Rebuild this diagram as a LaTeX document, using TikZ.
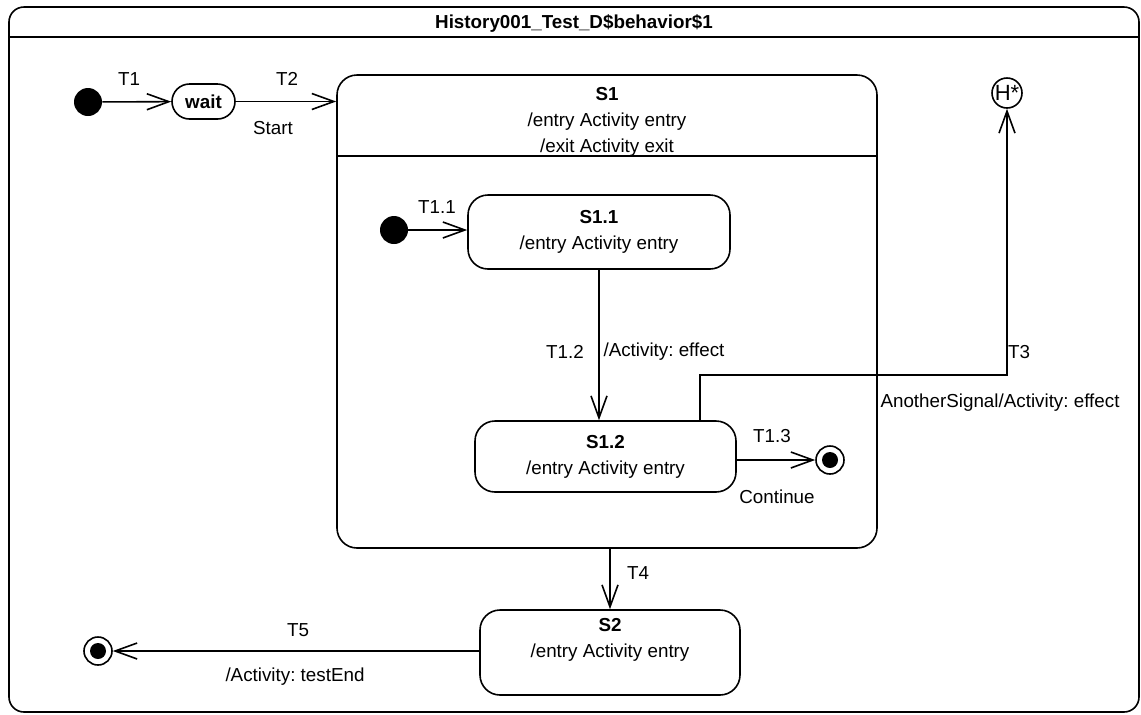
\documentclass[tikz,border=0pt]{standalone}
\usepackage{fontspec}
\setmainfont{Liberation Sans}
\usetikzlibrary{arrows.meta,positioning}

\newcommand{\dfont}{\fontsize{9.4}{13}\selectfont\frenchspacing}

\tikzset{
  state/.style={draw, line width=0.8pt, rounded corners=10pt, align=center, inner sep=0pt},
  pseudo/.style={circle, fill, minimum size=14pt, inner sep=0pt},
  finalst/.style={circle, draw, line width=0.8pt, minimum size=14pt, inner sep=0pt,
    path picture={\fill (path picture bounding box.center) circle (4pt);}},
  trans/.style={line width=0.8pt, -{Straight Barb[length=11pt,width=8pt]}},
  lbl/.style={inner sep=0pt, align=center},
}

\begin{document}
\begin{tikzpicture}[x=0.5pt, y=-0.5pt, every node/.style={font=\dfont}]
\useasboundingbox (0,0) rectangle (1141,714);

% --- Rahmen ---
\node[state, rounded corners=7.5pt, minimum width=565pt, minimum height=352.5pt] (frame) at (574,359.5) {};
\node[lbl, font=\dfont\bfseries] (title) at (574,23) {History001\_Test\_D\$behavior\$1};
\draw[line width=0.8pt] ([yshift=-15.5pt]frame.north west) -- ([yshift=-15.5pt]frame.north east);

% --- Zustaende ---
\node[pseudo] (init) at (88,102) {};
\node[state, rounded corners=8.75pt, minimum width=31.5pt, minimum height=17.5pt, font=\dfont\bfseries] (wait) at (203.5,101.5) {wait};

\node[state, minimum width=270pt, minimum height=236.5pt] (s1) at (607,311.5) {};
\node[lbl, anchor=north] (s1txt) at (607,87) {\textbf{S1}\\/entry Activity entry\\/exit Activity exit};
\draw[line width=0.8pt] ([yshift=-41pt]s1.north west) -- ([yshift=-41pt]s1.north east);

\node[pseudo] (init2) at (394,230) {};
\node[state, minimum width=131pt, minimum height=37pt] (s11) at (599,232) {\textbf{S1.1}\\/entry Activity entry};
\node[state, minimum width=130.5pt, minimum height=35.5pt] (s12) at (605.5,456.5) {\textbf{S1.2}\\/entry Activity entry};
\node[finalst] (fin1) at (830,460) {};

\node[circle, draw, line width=0.8pt, minimum size=15pt, inner sep=0pt, font=\fontsize{11}{11}\selectfont] (hist) at (1007,93) {H*};

\node[state, minimum width=130pt, minimum height=42.5pt] (s2) at (610,652.5) {};
\node[lbl] (s2txt) at (610,640) {\textbf{S2}\\/entry Activity entry};
\node[finalst] (fin2) at (98,651) {};

% --- Beschriftungen ---
\node[lbl] (t1) at (129,79) {T1};
\node[lbl] (t2) at (287,79) {T2};
\node[lbl] (start) at (273,128) {Start};
\node[lbl] (t11) at (437,207) {T1.1};
\node[lbl] (t12) at (565,352) {T1.2};
\node[lbl] (act12) at (664,352) {/Activity: effect};
\node[lbl] (t13) at (772,436) {T1.3};
\node[lbl] (cont) at (777,497) {Continue};
\node[lbl] (t3) at (1019,352) {T3};
\node[lbl] (sig3) at (1000,403) {AnotherSignal/Activity: effect};
\node[lbl] (t4) at (638,573) {T4};
\node[lbl] (t5) at (298,630) {T5};
\node[lbl] (act5) at (295,677) {/Activity: testEnd};

% --- Transitionen ---
\draw[trans] (init) -- (wait);
\draw[trans] (wait) -- (wait -| s1.west);
\draw[trans] (init2) -- (init2 -| s11.west);
\draw[trans] (s11) -- (s11 |- s12.north);
\draw[trans] (s12.east |- fin1) -- (fin1);
\draw[trans] ([xshift=47.25pt]s12.north) -- ++(0,-45) -| (hist);
\draw[trans] (s1.south -| s2) -- (s2);
\draw[trans] (s2.west |- fin2) -- (fin2);

\end{tikzpicture}
\end{document}
